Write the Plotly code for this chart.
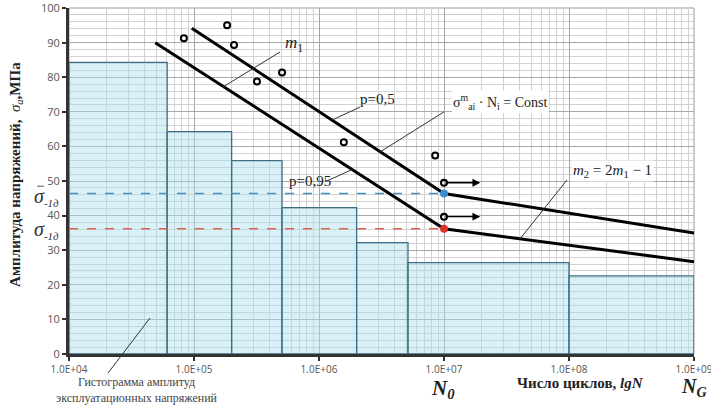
import math
import plotly.graph_objects as go

# ---- data ----
hist_edges = [1e4, 6.1e4, 2.0e5, 5.06e5, 2.0e6, 5.15e6, 1e8, 1e9]
hist_heights = [84.3, 64.3, 55.9, 42.3, 32.2, 26.4, 22.6]

p50_x = [9.6e4, 1e7, 1e9]
p50_y = [94.2, 46.4, 35.0]
p95_x = [4.9e4, 1e7, 1e9]
p95_y = [90.0, 36.2, 26.7]

test_x = [8.3e4, 1.84e5, 2.09e5, 3.19e5, 5.06e5, 1.58e6, 8.5e6, 1e7, 1e7]
test_y = [91.3, 95.0, 89.3, 78.8, 81.4, 61.2, 57.4, 49.5, 39.7]

runout_x = [1e7, 1.95e7]
runout_y = [49.5, 39.7]

sigma_levels = [46.4, 36.2]
sigma_colors = ["#3a8fd0", "#e0302a"]
dash_colors = ["#4a90c0", "#e06050"]
knee_N = 1e7

x_tickvals = [1e4, 1e5, 1e6, 1e7, 1e8, 1e9]
x_ticktext = ["1.0E+04", "1.0E+05", "1.0E+06", "1.0E+07", "1.0E+08", "1.0E+09"]
y_tickvals = list(range(0, 101, 10))
y_ticktext = [str(v) for v in y_tickvals]

SERIF = "Liberation Serif"
SANS = "Open Sans"

fig = go.Figure()

# histogram of service stress amplitudes
for i, h in enumerate(hist_heights):
    x0, x1 = hist_edges[i], hist_edges[i + 1]
    fig.add_trace(go.Scatter(
        x=[x0, x0, x1, x1, x0], y=[0, h, h, 0, 0],
        mode="lines", fill="toself",
        fillcolor="rgba(170,225,235,0.45)",
        line=dict(color="#3f6f86", width=1.3),
        hoverinfo="skip", showlegend=False))

# dashed fatigue-limit levels
for lvl, col in zip(sigma_levels, dash_colors):
    fig.add_trace(go.Scatter(
        x=[hist_edges[0], knee_N], y=[lvl, lvl], mode="lines",
        line=dict(color=col, width=1.5, dash="dash"),
        hoverinfo="skip", showlegend=False))

# S-N curves
for xs, ys in [(p50_x, p50_y), (p95_x, p95_y)]:
    fig.add_trace(go.Scatter(
        x=xs, y=ys, mode="lines",
        line=dict(color="black", width=3),
        hoverinfo="skip", showlegend=False))

# knee points
fig.add_trace(go.Scatter(
    x=[knee_N, knee_N], y=sigma_levels, mode="markers",
    marker=dict(color=sigma_colors, size=8),
    hoverinfo="skip", showlegend=False))

# run-out arrows
for ry in runout_y:
    fig.add_annotation(
        x=math.log10(runout_x[1]), y=ry, ax=math.log10(runout_x[0]), ay=ry,
        xref="x", yref="y", axref="x", ayref="y",
        showarrow=True, arrowhead=2, arrowsize=1.2, arrowwidth=1.3,
        arrowcolor="black", text="")

# test points
fig.add_trace(go.Scatter(
    x=test_x, y=test_y, mode="markers",
    marker=dict(symbol="circle-open", color="black", size=6,
                line=dict(width=2, color="black")),
    hoverinfo="skip", showlegend=False))

# leader lines (data coordinates)
leaders = [
    ([10 ** 5.232, 10 ** 5.688], [77.2, 87.3]),
    ([10 ** 6.104, 10 ** 6.328], [67.6, 71.4]),
    ([10 ** 6.05, 10 ** 6.264], [49.8, 53.3]),
    ([10 ** 7.0, 10 ** 6.488], [70.0, 58.4]),
    ([10 ** 7.984, 10 ** 7.608], [50.3, 33.3]),
]
for lx, ly in leaders:
    fig.add_trace(go.Scatter(
        x=lx, y=ly, mode="lines", line=dict(color="#333", width=1),
        hoverinfo="skip", showlegend=False))


def ann(x, y, text, size, **kw):
    fig.add_annotation(x=x, y=y, xref="x", yref="y", text=text,
                       showarrow=False,
                       font=dict(family=SERIF, size=size, color="#222"), **kw)


def pann(x, y, text, size, color="#222", **kw):
    fig.add_annotation(x=x, y=y, xref="paper", yref="paper", text=text,
                       showarrow=False,
                       font=dict(family=SERIF, size=size, color=color), **kw)


ann(5.80, 89.6, "<i>m</i><sub>1</sub>", 17)
ann(6.464, 73.6, "p=0,5", 15)
ann(5.93, 50.0, "p=0,95", 15)
ann(7.45, 72.8, "σ<sup>m</sup><sub>ai</sub> · N<sub>i</sub> = Const", 14,
    bgcolor="white", borderpad=1)
ann(8.35, 52.8, "<i>m</i><sub>2</sub> = 2<i>m</i><sub>1</sub> − 1", 15, bgcolor="white")

pann(0.109, -0.104, "Гистограмма амплитуд<br>эксплуатационных напряжений", 12,
     color="#444", xanchor="center", yanchor="middle")
pann(0.598, -0.10, "<b><i>N</i></b><sub><b><i>0</i></b></sub>", 21,
     xanchor="center", yanchor="middle")
pann(0.818, -0.085, "<b>Число циклов, <i>lgN</i></b>", 15,
     xanchor="center", yanchor="middle")
pann(1.024, -0.098, "<b><i>N</i></b><sub><b><i>G</i></b></sub>", 20,
     xanchor="right", yanchor="middle")
pann(-0.085, 0.52, "<b>Амплитуда напряжений,  </b><i>σ</i><sub><i>a</i></sub><b>,МПа</b>", 15,
     textangle=-90, xanchor="center", yanchor="middle")
sig_txt = "<i>σ</i><sub><span style='font-size:11px'><i>-1д</i></span></sub>"
pann(-0.036, 0.455, sig_txt, 20, color="#333", xanchor="center", yanchor="middle")
pann(-0.036, 0.357, sig_txt, 20, color="#333", xanchor="center", yanchor="middle")

# leader for histogram caption + overline on upper sigma
fig.add_shape(type="line", xref="paper", yref="paper",
              x0=0.0624, y0=-0.055, x1=0.1296, y1=0.104,
              line=dict(color="#333", width=1))
fig.add_shape(type="line", xref="paper", yref="paper",
              x0=-0.051, y0=0.485, x1=-0.040, y1=0.485,
              line=dict(color="#555", width=1))
# plot frame (top/right)
fig.add_shape(type="rect", xref="paper", yref="paper", x0=0, y0=0, x1=1, y1=1,
              line=dict(color="#9a9a9a", width=1), layer="below")

fig.update_xaxes(
    type="log", range=[4, 9], automargin=False,
    tickmode="array", tickvals=x_tickvals, ticktext=x_ticktext,
    tickfont=dict(family=SANS, size=10, color="#555"),
    ticklabeloverflow="allow",
    showgrid=True, gridcolor="#a8a8a8", gridwidth=1,
    minor=dict(dtick="D1", showgrid=True, gridcolor="#d2d2d2", gridwidth=1),
    showline=True, linecolor="#333", linewidth=3,
    ticks="outside", ticklen=4, tickcolor="#333", tickwidth=2,
    zeroline=False)
fig.update_yaxes(
    range=[0, 100.02], automargin=False,
    tickmode="array", tickvals=y_tickvals, ticktext=y_ticktext,
    tickfont=dict(family=SANS, size=11, color="#555"),
    ticklabeloverflow="allow",
    showgrid=True, gridcolor="#a8a8a8", gridwidth=1,
    minor=dict(dtick=2, showgrid=True, gridcolor="#d2d2d2", gridwidth=1),
    showline=True, linecolor="#333", linewidth=3,
    ticks="outside", ticklen=4, tickcolor="#333", tickwidth=2,
    zeroline=False)

fig.update_layout(
    width=711, height=406,
    margin=dict(l=69, r=17, t=8, b=52, autoexpand=False),
    plot_bgcolor="white", paper_bgcolor="white",
    showlegend=False)

fig.write_html("out.html")
